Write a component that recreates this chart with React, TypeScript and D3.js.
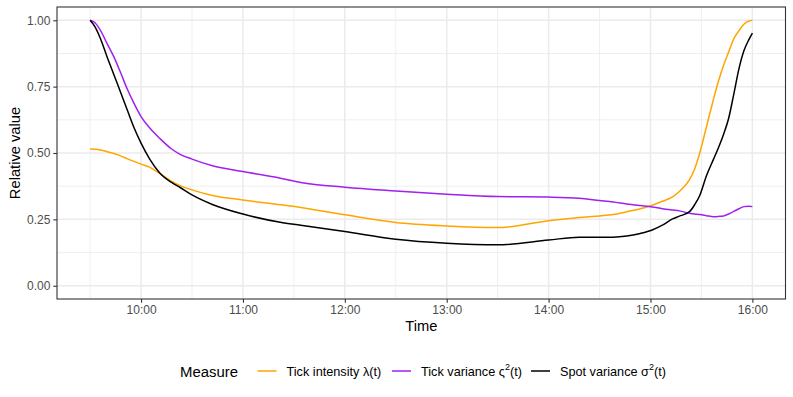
import React, { useEffect, useRef } from "react";
import * as d3 from "d3";

// minutes after 9:30
const minutes = [0, 3, 6, 10, 14, 18, 22, 26, 30, 35, 41, 48, 53, 60, 72, 90, 112, 124, 150, 180, 210, 240, 270, 288, 300, 308, 316, 324, 331, 337, 343, 347, 353, 356, 359, 363, 367, 370, 373, 376, 379, 382, 385, 388, 390];

const tickIntensity = [0.515, 0.514, 0.511, 0.505, 0.498, 0.489, 0.478, 0.468, 0.458, 0.447, 0.423, 0.393, 0.377, 0.361, 0.34, 0.323, 0.305, 0.295, 0.267, 0.238, 0.225, 0.219, 0.245, 0.257, 0.263, 0.268, 0.279, 0.29, 0.303, 0.318, 0.335, 0.355, 0.4, 0.44, 0.5, 0.6, 0.7, 0.77, 0.83, 0.88, 0.93, 0.96, 0.985, 0.997, 1.0];

const tickVariance = [1.0, 0.99, 0.963, 0.912, 0.862, 0.802, 0.739, 0.685, 0.637, 0.595, 0.555, 0.515, 0.495, 0.477, 0.452, 0.43, 0.405, 0.389, 0.371, 0.357, 0.345, 0.336, 0.334, 0.33, 0.321, 0.315, 0.308, 0.302, 0.297, 0.29, 0.285, 0.282, 0.273, 0.27, 0.268, 0.264, 0.26, 0.261, 0.263, 0.27, 0.28, 0.29, 0.298, 0.299, 0.298];

const spotVariance = [1.0, 0.974, 0.932, 0.862, 0.795, 0.728, 0.66, 0.593, 0.537, 0.478, 0.425, 0.389, 0.37, 0.342, 0.306, 0.27, 0.239, 0.228, 0.204, 0.175, 0.16, 0.154, 0.172, 0.183, 0.183, 0.183, 0.187, 0.197, 0.21, 0.228, 0.252, 0.262, 0.279, 0.305, 0.34, 0.415, 0.475, 0.52, 0.57, 0.63, 0.72, 0.815, 0.885, 0.928, 0.952];

const xTicks = [10, 11, 12, 13, 14, 15, 16];
const xMinor = [9.5, 10.5, 11.5, 12.5, 13.5, 14.5, 15.5];
const yTicks = [0, 0.25, 0.5, 0.75, 1];
const yMinor = [0.125, 0.375, 0.625, 0.875];

const series = [
  { key: "intensity", values: tickIntensity, color: "#FFA500", label: "Tick intensity λ(t)", sym: "λ", sup: "" },
  { key: "tickvar", values: tickVariance, color: "#A020F0", label: "Tick variance", sym: "ς", sup: "2" },
  { key: "spotvar", values: spotVariance, color: "#000000", label: "Spot variance", sym: "σ", sup: "2" },
];

const W = 793;
const H = 397;
const panel = { left: 57, right: 785.5, top: 7, bottom: 299 };
const font = "Liberation Sans, Arial, sans-serif";

export default function App() {
  const svgRef = useRef<SVGSVGElement>(null);

  useEffect(() => {
    const svg = d3.select(svgRef.current);
    svg.selectAll("*").remove();

    const x = d3.scaleLinear().domain([9.5 - 0.325, 16 + 0.325]).range([panel.left, panel.right]);
    const y = d3.scaleLinear().domain([-0.05, 1.05]).range([panel.bottom, panel.top]);

    // panel background + grid
    svg.append("rect")
      .attr("x", panel.left).attr("y", panel.top)
      .attr("width", panel.right - panel.left).attr("height", panel.bottom - panel.top)
      .attr("fill", "white");

    const grid = svg.append("g");
    grid.selectAll(".xminor").data(xMinor).join("line")
      .attr("x1", d => x(d)).attr("x2", d => x(d))
      .attr("y1", panel.top).attr("y2", panel.bottom)
      .attr("stroke", "#EBEBEB").attr("stroke-width", 0.8);
    grid.selectAll(".yminor").data(yMinor).join("line")
      .attr("y1", d => y(d)).attr("y2", d => y(d))
      .attr("x1", panel.left).attr("x2", panel.right)
      .attr("stroke", "#EBEBEB").attr("stroke-width", 0.8);
    grid.selectAll(".xmajor").data(xTicks).join("line")
      .attr("x1", d => x(d)).attr("x2", d => x(d))
      .attr("y1", panel.top).attr("y2", panel.bottom)
      .attr("stroke", "#EBEBEB").attr("stroke-width", 1.5);
    grid.selectAll(".ymajor").data(yTicks).join("line")
      .attr("y1", d => y(d)).attr("y2", d => y(d))
      .attr("x1", panel.left).attr("x2", panel.right)
      .attr("stroke", "#EBEBEB").attr("stroke-width", 1.5);

    // lines
    const line = d3.line<number>()
      .x((_, i) => x(9.5 + minutes[i] / 60))
      .y(d => y(d))
      .curve(d3.curveMonotoneX);

    svg.selectAll(".series").data(series).join("path")
      .attr("class", "series")
      .attr("fill", "none")
      .attr("stroke", s => s.color)
      .attr("stroke-width", 1.5)
      .attr("d", s => line(s.values));

    // border
    svg.append("rect")
      .attr("x", panel.left).attr("y", panel.top)
      .attr("width", panel.right - panel.left).attr("height", panel.bottom - panel.top)
      .attr("fill", "none").attr("stroke", "#333333").attr("stroke-width", 1.1);

    // axes
    const xAxis = d3.axisBottom(x).tickValues(xTicks).tickSize(3.7).tickPadding(3)
      .tickFormat(d => `${d}:00`);
    const gx = svg.append("g").attr("transform", `translate(0,${panel.bottom})`).call(xAxis);
    const yAxis = d3.axisLeft(y).tickValues(yTicks).tickSize(3.7).tickPadding(3)
      .tickFormat(d3.format(".2f"));
    const gy = svg.append("g").attr("transform", `translate(${panel.left},0)`).call(yAxis);

    [gx, gy].forEach(g => {
      g.select(".domain").remove();
      g.selectAll(".tick line").attr("stroke", "#333333").attr("stroke-width", 1.1);
      g.selectAll(".tick text")
        .attr("fill", "#4D4D4D")
        .style("font-family", font)
        .style("font-size", "12px");
    });

    svg.append("text")
      .attr("x", (panel.left + panel.right) / 2).attr("y", 331)
      .attr("text-anchor", "middle")
      .style("font-family", font).style("font-size", "14.7px")
      .text("Time");

    svg.append("text")
      .attr("transform", `translate(20,${(panel.top + panel.bottom) / 2}) rotate(-90)`)
      .attr("text-anchor", "middle")
      .style("font-family", font).style("font-size", "14.7px")
      .text("Relative value");

    // legend
    const legend = svg.append("g").attr("transform", "translate(0,371)");
    legend.append("text")
      .attr("x", 180).attr("y", 5.5)
      .style("font-family", font).style("font-size", "14.9px")
      .text("Measure");

    const keyX = [257.5, 392, 531];
    series.forEach((s, i) => {
      legend.append("line")
        .attr("x1", keyX[i]).attr("x2", keyX[i] + 19)
        .attr("y1", 0).attr("y2", 0)
        .attr("stroke", s.color).attr("stroke-width", 1.5);
      const t = legend.append("text")
        .attr("x", keyX[i] + 29).attr("y", 4.5)
        .style("font-family", font).style("font-size", "12.7px");
      if (s.sup) {
        t.append("tspan").text(`${s.label} ${s.sym}`);
        t.append("tspan").attr("dy", -5.5).style("font-size", "9px").text(s.sup);
        t.append("tspan").attr("dy", 5.5).text("(t)");
      } else {
        t.text(s.label);
      }
    });
  }, []);

  return (
    <svg ref={svgRef} width={W} height={H}
      style={{ position: "absolute", left: 0, top: 0, background: "white" }} />
  );
}
